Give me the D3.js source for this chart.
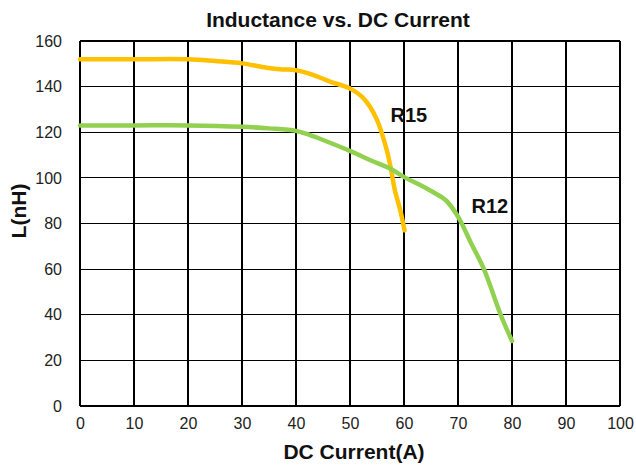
<!DOCTYPE html>
<html><head><meta charset="utf-8">
<script src="https://cdn.jsdelivr.net/npm/d3@7/dist/d3.min.js"></script>
<style>
html,body{margin:0;padding:0;background:#fff;}
text{font-family:Arial,"Liberation Sans",sans-serif;}
</style></head>
<body>
<svg id="chart" width="636" height="468"></svg>
<script>
const title = "Inductance vs. DC Current";
const xTitle = "DC Current(A)";
const yTitle = "L(nH)";
const xTicks = [0,10,20,30,40,50,60,70,80,90,100];
const yTicks = [0,20,40,60,80,100,120,140,160];
const r15Current = [0,10,20,25,30,34,37,40,42,44.4,46.3,48.8,50.3,52.2,53.7,55,55.9,56.8,57.5,58.3,59.3,60.1];
const r15L = [152,152,152,151.2,150.2,148.5,147.6,147.2,146,144,142.2,140.3,138.8,135.6,131.2,125.4,119.5,112.2,104.9,94.7,85.9,77];
const r12Current = [0,10,20,30,35,40,42.5,45,50.3,54,57.5,60.3,62.9,65.2,67.7,70,72.5,74.8,77.9,80];
const r12L = [123,123,123,122.4,121.7,120.6,118.8,116.6,111.5,107.5,104,100,97,94,90.3,83,71,60,40,28.5];
const seriesNames = ["R15","R12"];
const seriesColors = ["#FFC000","#92D050"];

const svg = d3.select("#chart");
const x = d3.scaleLinear().domain([0,100]).range([80,620]);
const y = d3.scaleLinear().domain([0,160]).range([406,41]);

// grid
const g = svg.append("g").attr("shape-rendering","crispEdges");
g.selectAll("line.v").data(xTicks).enter().append("line")
  .attr("x1",d=>x(d)).attr("x2",d=>x(d)).attr("y1",y(0)).attr("y2",y(160))
  .attr("stroke","#000").attr("stroke-width",1.2);
g.selectAll("line.h").data(yTicks).enter().append("line")
  .attr("x1",x(0)).attr("x2",x(100)).attr("y1",d=>y(d)).attr("y2",d=>y(d))
  .attr("stroke","#000").attr("stroke-width",1.2);

// axes labels via d3 axes
const xAxis = svg.append("g").attr("transform",`translate(0,${y(0)})`)
  .call(d3.axisBottom(x).tickValues(xTicks).tickSize(0).tickPadding(12));
const yAxis = svg.append("g").attr("transform",`translate(${x(0)},0)`)
  .call(d3.axisLeft(y).tickValues(yTicks).tickSize(0).tickPadding(18));
[xAxis,yAxis].forEach(a=>{
  a.select(".domain").remove();
  a.selectAll("text").attr("font-size",16).attr("fill","#222")
   .attr("font-family","Arial, 'Liberation Sans', sans-serif");
});

// lines
const line = d3.line().x(d=>x(d[0])).y(d=>y(d[1])).curve(d3.curveCatmullRom.alpha(0.5));
const data = [d3.zip(r15Current,r15L), d3.zip(r12Current,r12L)];
data.forEach((pts,i)=>{
  svg.append("path").datum(pts).attr("d",line)
    .attr("fill","none").attr("stroke",seriesColors[i])
    .attr("stroke-width",4.5).attr("stroke-linecap","round").attr("stroke-linejoin","round");
});

// series labels
svg.append("text").attr("x",x(57.5)).attr("y",y(124.5)).text(seriesNames[0])
  .attr("font-size",20).attr("font-weight","bold").attr("fill","#111");
svg.append("text").attr("x",x(72.5)).attr("y",y(84.5)).text(seriesNames[1])
  .attr("font-size",20).attr("font-weight","bold").attr("fill","#111");

// titles
svg.append("text").attr("x",338).attr("y",27).attr("text-anchor","middle")
  .attr("font-size",21).attr("font-weight","bold").attr("fill","#111").text(title);
svg.append("text").attr("x",354).attr("y",459).attr("text-anchor","middle")
  .attr("font-size",21).attr("font-weight","bold").attr("fill","#111").text(xTitle);
svg.append("text").attr("transform","translate(26,211) rotate(-90)").attr("text-anchor","middle")
  .attr("font-size",21).attr("font-weight","bold").attr("fill","#111").text(yTitle);
</script>
</body></html>
